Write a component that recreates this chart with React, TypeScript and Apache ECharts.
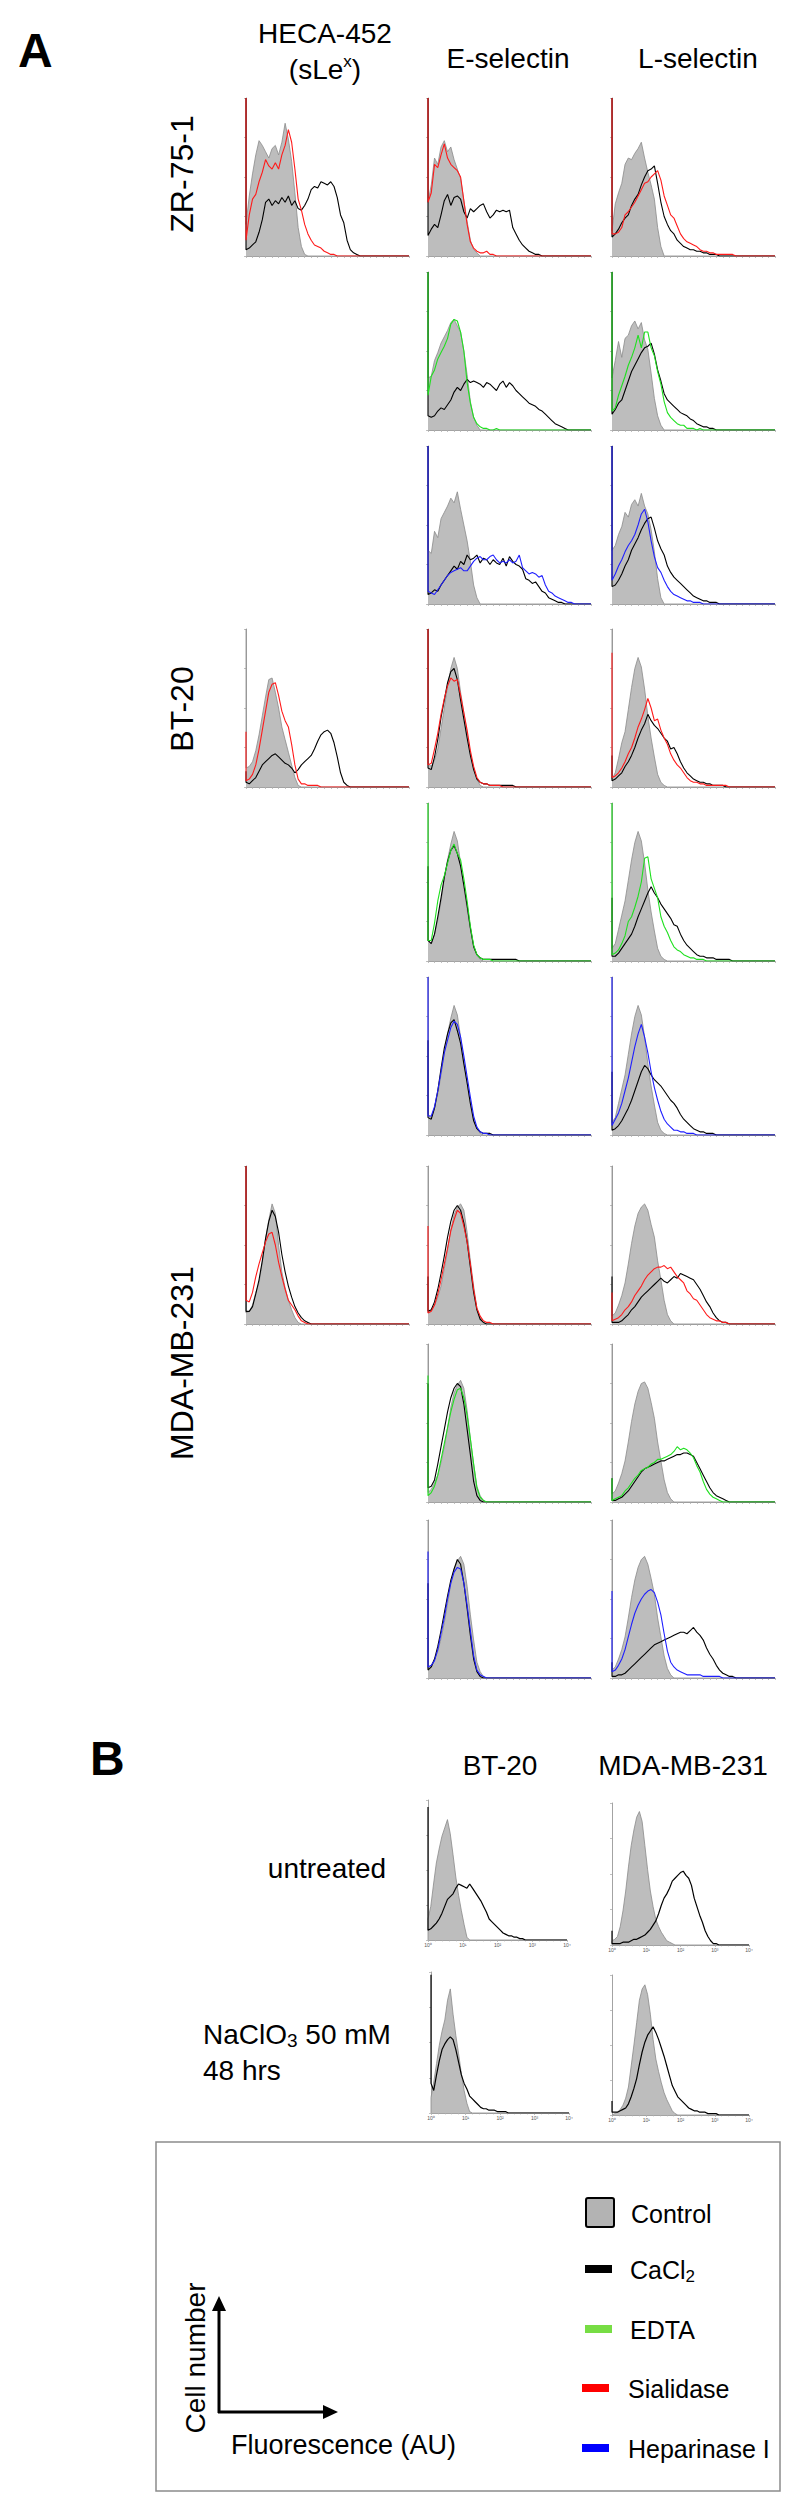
import React, { useEffect, useRef } from "react";
import * as echarts from "echarts";

// ---------------------------------------------------------------------------
// Histogram data: % of panel height per channel bin (bin width = 2% of the
// fluorescence axis). First entry of each array = off-scale first channel.
// ---------------------------------------------------------------------------

// ZR-75-1, sialidase row
const zrHecaCtrl = [100, 20, 38, 52, 64, 73, 70, 66, 62, 68, 70, 64, 72, 84, 74, 60, 40, 18, 6, 1, 0];
const zrHecaCacl2 = [100, 4, 5, 7, 9, 15, 23, 34, 36, 32, 35, 33, 37, 34, 38, 32, 35, 30, 29, 32, 36, 42, 44, 43, 47, 46, 45, 47, 44, 37, 26, 21, 10, 4, 2, 1, 0];
const zrHecaSial = [100, 10, 26, 36, 39, 47, 53, 61, 57, 55, 59, 55, 64, 70, 80, 72, 55, 36, 29, 20, 14, 10, 7, 6, 5, 3, 2, 1, 1, 0];
const zrEselCtrl = [100, 34, 45, 62, 58, 69, 73, 66, 69, 61, 55, 49, 35, 22, 10, 4, 2, 0];
const zrEselCacl2 = [100, 13, 17, 20, 18, 26, 35, 39, 32, 37, 38, 36, 28, 24, 30, 28, 30, 32, 33, 28, 24, 26, 29, 28, 29, 28, 29, 18, 14, 10, 7, 5, 3, 2, 1, 1, 0];
const zrEselSial = [100, 34, 40, 58, 56, 64, 71, 62, 58, 56, 54, 50, 35, 20, 9, 5, 3, 2, 2, 3, 1, 1, 0];
const zrLselCtrl = [100, 16, 33, 40, 46, 58, 62, 61, 65, 68, 72, 62, 53, 45, 36, 18, 6, 0];
const zrLselCacl2 = [100, 12, 14, 17, 21, 24, 26, 32, 36, 39, 45, 50, 54, 55, 57, 46, 34, 25, 20, 16, 14, 10, 8, 6, 5, 4, 4, 3, 3, 2, 2, 1, 1, 1, 0];
const zrLselSial = [100, 14, 14, 15, 18, 26, 28, 31, 34, 38, 42, 46, 47, 50, 52, 54, 48, 38, 32, 26, 24, 19, 14, 11, 9, 8, 7, 6, 4, 3, 3, 2, 2, 1, 1, 1, 1, 1, 1, 0];

// ZR-75-1, EDTA row
const zrEselCtrl2 = [100, 33, 34, 44, 49, 55, 59, 63, 68, 70, 66, 62, 50, 35, 18, 8, 3, 0];
const zrEselCacl2b = [100, 9, 8, 9, 12, 14, 13, 16, 19, 24, 27, 25, 29, 32, 30, 31, 30, 29, 27, 30, 29, 27, 25, 29, 31, 27, 30, 28, 25, 23, 21, 19, 17, 16, 15, 13, 12, 10, 8, 6, 4, 3, 2, 1, 0];
const zrEselEdta = [100, 22, 34, 38, 45, 49, 53, 58, 67, 70, 69, 62, 50, 30, 17, 8, 4, 2, 1, 1, 0, 0, 1, 0];
const zrLselCtrl2 = [100, 33, 44, 56, 46, 58, 60, 66, 69, 64, 68, 57, 51, 36, 20, 9, 3, 0];
const zrLselCacl2b = [100, 10, 13, 17, 19, 25, 31, 37, 41, 45, 49, 52, 53, 55, 48, 38, 31, 23, 19, 17, 15, 13, 11, 10, 9, 7, 6, 4, 3, 2, 2, 1, 1, 0];
const zrLselEdta = [100, 12, 14, 22, 28, 34, 41, 46, 52, 60, 52, 62, 62, 52, 47, 37, 29, 18, 11, 8, 6, 4, 3, 3, 1, 1, 1, 0, 1, 0];

// ZR-75-1, heparinase row
const zrEselCtrl3 = [100, 34, 32, 46, 42, 54, 58, 62, 67, 64, 71, 60, 50, 40, 27, 12, 4, 0];
const zrEselCacl2c = [100, 6, 7, 9, 8, 12, 15, 18, 21, 24, 22, 27, 25, 31, 28, 29, 31, 26, 29, 28, 25, 28, 26, 25, 29, 24, 30, 27, 25, 24, 22, 16, 15, 13, 14, 11, 8, 7, 4, 3, 2, 1, 1, 0];
const zrEselHep = [100, 8, 7, 6, 9, 12, 15, 18, 20, 21, 22, 23, 21, 21, 24, 27, 29, 30, 28, 28, 30, 31, 28, 26, 27, 26, 28, 26, 27, 31, 23, 21, 19, 20, 19, 17, 18, 12, 8, 7, 5, 4, 3, 2, 1, 1, 0];
const zrLselCtrl3 = [100, 34, 37, 44, 49, 58, 55, 63, 66, 62, 70, 62, 57, 47, 33, 16, 4, 0];
const zrLselCacl2c = [100, 11, 12, 15, 19, 24, 28, 34, 38, 42, 47, 51, 54, 55, 48, 40, 35, 31, 24, 20, 17, 15, 13, 11, 9, 7, 5, 4, 3, 2, 2, 1, 1, 1, 0];
const zrLselHep = [100, 15, 19, 24, 28, 33, 37, 40, 44, 50, 57, 60, 52, 40, 30, 23, 20, 15, 11, 8, 6, 5, 4, 3, 2, 2, 1, 1, 1, 0];

// BT-20, sialidase row
const btHecaCtrl = [100, 12, 13, 16, 23, 33, 45, 57, 68, 69, 60, 50, 38, 30, 22, 14, 6, 1, 0];
const btHecaCacl2 = [10, 3, 2, 4, 6, 10, 14, 16, 18, 20, 21, 19, 17, 15, 14, 12, 9, 11, 14, 16, 18, 20, 24, 29, 33, 35, 36, 34, 28, 19, 9, 3, 1, 0];
const btHecaSial = [35, 4, 5, 8, 14, 24, 36, 48, 60, 65, 66, 58, 48, 42, 38, 27, 14, 5, 2, 2, 1, 1, 1, 1, 0];
const btEselCtrl = [100, 15, 13, 17, 24, 37, 50, 64, 75, 82, 75, 60, 47, 34, 21, 12, 5, 1, 0];
const btEselCacl2 = [100, 12, 11, 19, 30, 44, 55, 66, 73, 75, 68, 55, 43, 31, 20, 11, 5, 3, 2, 2, 1, 1, 1, 1, 1, 1, 1, 1, 0];
const btEselSial = [100, 14, 15, 24, 34, 46, 56, 64, 69, 67, 68, 58, 47, 36, 23, 13, 6, 3, 2, 2, 1, 1, 1, 1, 0];
const btLselCtrl = [100, 5, 9, 18, 28, 35, 49, 63, 75, 82, 76, 62, 45, 31, 19, 8, 3, 1, 0];
const btLselCacl2 = [20, 4, 5, 7, 9, 13, 16, 20, 25, 31, 36, 40, 46, 42, 39, 37, 34, 31, 29, 24, 25, 21, 16, 12, 9, 7, 5, 4, 3, 3, 2, 2, 1, 1, 1, 1, 0];
const btLselSial = [85, 6, 7, 9, 12, 16, 21, 25, 31, 38, 43, 49, 56, 50, 42, 43, 36, 31, 27, 21, 17, 14, 12, 9, 6, 4, 3, 3, 2, 2, 1, 1, 1, 1, 1, 1, 1, 0];

// BT-20, EDTA row
const btEselCtrl2 = [100, 13, 11, 17, 26, 38, 52, 64, 74, 82, 76, 62, 47, 33, 20, 10, 4, 1, 0];
const btEselCacl2b = [60, 13, 11, 17, 28, 40, 53, 63, 70, 73, 68, 60, 48, 35, 21, 9, 4, 2, 1, 1, 1, 1, 1, 1, 1, 1, 1, 1, 1, 0];
const btEselEdta = [100, 13, 13, 24, 38, 48, 54, 62, 70, 74, 68, 64, 52, 38, 22, 10, 4, 2, 1, 1, 1, 0];
const btLselCtrl2 = [100, 8, 11, 20, 29, 38, 51, 64, 75, 82, 76, 62, 45, 31, 19, 8, 3, 1, 0];
const btLselCacl2b = [40, 3, 3, 5, 8, 11, 14, 17, 22, 28, 33, 38, 43, 47, 43, 40, 36, 33, 30, 27, 23, 22, 17, 13, 10, 8, 6, 4, 3, 3, 2, 2, 2, 1, 1, 1, 1, 1, 0];
const btLselEdta = [100, 4, 5, 7, 11, 16, 25, 28, 34, 41, 50, 65, 66, 52, 46, 40, 28, 22, 18, 13, 9, 7, 6, 4, 3, 2, 2, 1, 1, 1, 0];

// BT-20, heparinase row
const btEselCtrl3 = [100, 13, 11, 17, 26, 38, 52, 64, 74, 82, 76, 62, 47, 33, 20, 10, 4, 1, 0];
const btEselCacl2c = [60, 11, 10, 17, 28, 42, 55, 64, 71, 73, 66, 58, 45, 33, 20, 9, 4, 2, 1, 1, 1, 0];
const btEselHep = [100, 12, 12, 18, 28, 40, 52, 60, 68, 72, 70, 62, 50, 37, 24, 12, 5, 2, 1, 1, 0];
const btLselCtrl3 = [100, 8, 11, 20, 29, 38, 51, 64, 75, 82, 76, 62, 45, 31, 19, 8, 3, 1, 0];
const btLselCacl2c = [40, 3, 4, 6, 9, 13, 17, 22, 28, 34, 40, 44, 42, 38, 35, 33, 31, 28, 25, 22, 20, 17, 13, 10, 8, 6, 4, 3, 2, 2, 1, 1, 1, 0];
const btLselHep = [100, 6, 10, 14, 20, 28, 36, 46, 56, 64, 70, 62, 52, 40, 30, 22, 15, 10, 7, 5, 3, 3, 2, 2, 1, 1, 1, 0];

// MDA-MB-231, sialidase row
const mdaHecaCtrl = [100, 7, 8, 12, 20, 26, 39, 54, 66, 76, 70, 50, 33, 23, 15, 9, 4, 1, 0];
const mdaHecaCacl2 = [100, 8, 8, 11, 19, 28, 40, 54, 65, 72, 68, 58, 44, 33, 24, 17, 11, 7, 4, 2, 1, 0];
const mdaHecaSial = [100, 15, 14, 20, 30, 38, 45, 52, 57, 58, 50, 39, 30, 22, 15, 12, 9, 5, 2, 1, 0];
const mdaEselCtrl = [100, 7, 9, 12, 17, 24, 35, 47, 60, 69, 74, 76, 72, 58, 40, 24, 10, 4, 1, 0];
const mdaEselCacl2 = [30, 8, 9, 14, 22, 32, 43, 55, 65, 72, 75, 72, 64, 52, 36, 20, 9, 3, 1, 0];
const mdaEselSial = [62, 7, 8, 12, 19, 28, 38, 48, 59, 66, 72, 70, 62, 52, 38, 22, 10, 5, 2, 1, 1, 0];
const mdaLselCtrl = [100, 5, 7, 12, 18, 26, 38, 51, 62, 70, 74, 76, 72, 63, 55, 40, 28, 15, 6, 2, 0];
const mdaLselCacl2 = [30, 1, 1, 1, 2, 4, 6, 9, 11, 14, 17, 19, 21, 23, 25, 27, 29, 27, 26, 28, 30, 29, 32, 31, 30, 29, 28, 25, 22, 18, 14, 11, 7, 4, 2, 1, 1, 0];
const mdaLselSial = [20, 2, 3, 4, 6, 9, 11, 14, 18, 21, 24, 28, 31, 33, 35, 36, 36, 37, 35, 36, 33, 30, 28, 26, 21, 19, 16, 15, 12, 9, 6, 4, 3, 2, 2, 1, 1, 0];

// MDA-MB-231, EDTA row
const mdaEselCtrl2 = [100, 6, 8, 12, 17, 25, 35, 47, 60, 69, 74, 77, 72, 58, 40, 24, 10, 4, 1, 0];
const mdaEselCacl2b = [75, 9, 10, 14, 24, 35, 46, 57, 66, 72, 75, 73, 62, 46, 30, 13, 4, 1, 0];
const mdaEselEdta = [80, 4, 6, 10, 17, 27, 37, 47, 57, 65, 71, 72, 66, 55, 40, 24, 9, 3, 1, 0];
const mdaLselCtrl2 = [100, 5, 7, 12, 18, 26, 38, 51, 62, 70, 75, 76, 72, 63, 53, 38, 26, 14, 6, 2, 0];
const mdaLselCacl2b = [15, 1, 1, 2, 3, 5, 7, 10, 13, 16, 19, 21, 22, 23, 24, 25, 26, 26, 27, 28, 29, 30, 30, 31, 31, 30, 29, 25, 21, 17, 13, 9, 6, 4, 3, 2, 1, 0];
const mdaLselEdta = [15, 1, 2, 3, 4, 7, 9, 12, 15, 17, 20, 21, 22, 24, 25, 27, 27, 28, 29, 30, 32, 35, 33, 34, 33, 31, 28, 23, 19, 13, 8, 5, 3, 2, 1, 0];

// MDA-MB-231, heparinase row
const mdaEselCtrl3 = [100, 6, 8, 12, 17, 25, 35, 47, 60, 69, 74, 77, 72, 58, 40, 24, 10, 4, 1, 0];
const mdaEselCacl2c = [60, 5, 7, 12, 20, 30, 41, 52, 62, 69, 75, 72, 60, 44, 27, 12, 4, 1, 0];
const mdaEselHep = [80, 7, 8, 11, 18, 28, 38, 50, 60, 67, 70, 69, 60, 46, 30, 14, 5, 2, 1, 0];
const mdaLselCtrl3 = [100, 5, 7, 12, 18, 26, 38, 51, 62, 70, 75, 77, 72, 63, 53, 38, 26, 14, 6, 2, 0];
const mdaLselCacl2c = [10, 1, 1, 2, 2, 3, 5, 7, 9, 11, 13, 15, 17, 19, 21, 22, 23, 24, 25, 26, 27, 28, 29, 29, 28, 30, 32, 29, 27, 24, 19, 15, 12, 8, 5, 3, 2, 1, 1, 0];
const mdaLselHep = [55, 4, 5, 8, 12, 18, 26, 34, 41, 46, 50, 53, 55, 56, 54, 48, 40, 28, 17, 10, 7, 5, 4, 3, 2, 2, 2, 2, 2, 1, 1, 1, 1, 1, 1, 0];

// Panel B (untreated vs NaClO3)
const bUntBtCtrl = [0, 15, 24, 40, 55, 65, 74, 80, 86, 76, 61, 45, 32, 21, 11, 2, 0];
const bUntBtCacl2 = [95, 7, 8, 10, 12, 15, 19, 24, 29, 31, 33, 37, 40, 39, 38, 37, 40, 37, 34, 31, 28, 24, 20, 15, 13, 11, 9, 7, 5, 4, 3, 3, 2, 2, 1, 1, 0];
const bUntMdaCtrl = [0, 3, 4, 6, 13, 24, 38, 55, 70, 81, 90, 94, 87, 70, 53, 38, 27, 18, 13, 9, 6, 3, 2, 1, 0];
const bUntMdaCacl2 = [10, 1, 1, 1, 1, 2, 2, 2, 3, 4, 4, 5, 6, 7, 9, 11, 14, 17, 22, 28, 33, 36, 40, 45, 47, 49, 51, 52, 49, 47, 42, 33, 27, 21, 16, 10, 6, 3, 1, 1, 0];
const bNaBtCtrl = [0, 11, 22, 35, 48, 58, 66, 80, 88, 70, 55, 42, 28, 16, 7, 1, 0];
const bNaBtCacl2 = [98, 21, 16, 27, 37, 45, 49, 52, 54, 52, 45, 36, 27, 21, 17, 12, 10, 8, 6, 4, 3, 3, 2, 2, 2, 1, 1, 1, 1, 0];
const bNaMdaCtrl = [0, 0, 1, 2, 4, 7, 12, 20, 35, 50, 66, 82, 90, 93, 86, 72, 54, 40, 31, 23, 16, 11, 7, 3, 1, 0];
const bNaMdaCacl2 = [10, 2, 2, 2, 3, 4, 5, 8, 13, 19, 26, 36, 45, 52, 57, 60, 63, 59, 54, 48, 42, 35, 28, 21, 17, 13, 11, 9, 7, 5, 4, 3, 3, 2, 2, 2, 1, 1, 1, 1, 0];

const B_TICK_LABELS = ["10\u2070", "10\u00B9", "10\u00B2", "10\u00B3", "10\u2074"];
const COLUMN_TITLES = ["HECA-452", "E-selectin", "L-selectin"];
const ROW_TITLES = ["ZR-75-1", "BT-20", "MDA-MB-231"];
const B_COLUMN_TITLES = ["BT-20", "MDA-MB-231"];
const LEGEND_ITEMS = ["Control", "CaCl2", "EDTA", "Sialidase", "Heparinase I"];

// ---------------------------------------------------------------------------
const FONT = "'Liberation Sans', Arial, Helvetica, sans-serif";
const COLORS: Record<string, string> = {
  cacl2: "#000000",
  edta: "#1fe01f",
  sial: "#ff1a1a",
  hep: "#1f1fff",
};
const BIN = 2;

// layout
const COL_X = [246, 428, 612];
const ROW_BOTTOM = [256, 430, 604, 787, 961, 1135, 1324, 1502, 1678];
const PW = 163;
const PH = 158;

type PanelA = { r: number; c: number; ctrl: number[]; cacl2: number[]; t: string; tr: number[] };
const panelsA: PanelA[] = [
  { r: 0, c: 0, ctrl: zrHecaCtrl, cacl2: zrHecaCacl2, t: "sial", tr: zrHecaSial },
  { r: 0, c: 1, ctrl: zrEselCtrl, cacl2: zrEselCacl2, t: "sial", tr: zrEselSial },
  { r: 0, c: 2, ctrl: zrLselCtrl, cacl2: zrLselCacl2, t: "sial", tr: zrLselSial },
  { r: 1, c: 1, ctrl: zrEselCtrl2, cacl2: zrEselCacl2b, t: "edta", tr: zrEselEdta },
  { r: 1, c: 2, ctrl: zrLselCtrl2, cacl2: zrLselCacl2b, t: "edta", tr: zrLselEdta },
  { r: 2, c: 1, ctrl: zrEselCtrl3, cacl2: zrEselCacl2c, t: "hep", tr: zrEselHep },
  { r: 2, c: 2, ctrl: zrLselCtrl3, cacl2: zrLselCacl2c, t: "hep", tr: zrLselHep },
  { r: 3, c: 0, ctrl: btHecaCtrl, cacl2: btHecaCacl2, t: "sial", tr: btHecaSial },
  { r: 3, c: 1, ctrl: btEselCtrl, cacl2: btEselCacl2, t: "sial", tr: btEselSial },
  { r: 3, c: 2, ctrl: btLselCtrl, cacl2: btLselCacl2, t: "sial", tr: btLselSial },
  { r: 4, c: 1, ctrl: btEselCtrl2, cacl2: btEselCacl2b, t: "edta", tr: btEselEdta },
  { r: 4, c: 2, ctrl: btLselCtrl2, cacl2: btLselCacl2b, t: "edta", tr: btLselEdta },
  { r: 5, c: 1, ctrl: btEselCtrl3, cacl2: btEselCacl2c, t: "hep", tr: btEselHep },
  { r: 5, c: 2, ctrl: btLselCtrl3, cacl2: btLselCacl2c, t: "hep", tr: btLselHep },
  { r: 6, c: 0, ctrl: mdaHecaCtrl, cacl2: mdaHecaCacl2, t: "sial", tr: mdaHecaSial },
  { r: 6, c: 1, ctrl: mdaEselCtrl, cacl2: mdaEselCacl2, t: "sial", tr: mdaEselSial },
  { r: 6, c: 2, ctrl: mdaLselCtrl, cacl2: mdaLselCacl2, t: "sial", tr: mdaLselSial },
  { r: 7, c: 1, ctrl: mdaEselCtrl2, cacl2: mdaEselCacl2b, t: "edta", tr: mdaEselEdta },
  { r: 7, c: 2, ctrl: mdaLselCtrl2, cacl2: mdaLselCacl2b, t: "edta", tr: mdaLselEdta },
  { r: 8, c: 1, ctrl: mdaEselCtrl3, cacl2: mdaEselCacl2c, t: "hep", tr: mdaEselHep },
  { r: 8, c: 2, ctrl: mdaLselCtrl3, cacl2: mdaLselCacl2c, t: "hep", tr: mdaLselHep },
];

const panelsB = [
  { x: 428, y: 1800, w: 139, h: 140, ctrl: bUntBtCtrl, cacl2: bUntBtCacl2 },
  { x: 612, y: 1803, w: 137, h: 142, ctrl: bUntMdaCtrl, cacl2: bUntMdaCacl2 },
  { x: 431, y: 1972, w: 138, h: 141, ctrl: bNaBtCtrl, cacl2: bNaBtCacl2 },
  { x: 612, y: 1975, w: 137, h: 140, ctrl: bNaMdaCtrl, cacl2: bNaMdaCacl2 },
];

function toPoints(arr: number[]) {
  const pts: number[][] = [[0, arr[0]]];
  for (let i = 1; i < arr.length; i++) pts.push([(i - 1) * BIN, arr[i]]);
  pts.push([100, 0]);
  return pts;
}

function buildOption() {
  const grid: any[] = [];
  const xAxis: any[] = [];
  const yAxis: any[] = [];
  const series: any[] = [];

  const addPanel = (
    left: number, top: number, w: number, h: number,
    curves: { data: number[]; kind: string }[], isB: boolean
  ) => {
    const i = grid.length;
    grid.push({ left, top, width: w, height: h, containLabel: false });
    xAxis.push({
      gridIndex: i, type: "value", min: 0, max: 100, interval: isB ? 25 : 4,
      axisLine: { show: true, lineStyle: { color: "#a3a3a3", width: 1 } },
      axisTick: { show: true, length: 2, lineStyle: { color: "#b0b0b0", width: 0.8 } },
      minorTick: { show: isB, splitNumber: 5, length: 1.5, lineStyle: { color: "#b0b0b0", width: 0.6 } },
      axisLabel: isB
        ? {
            show: true, fontSize: 5, color: "#555", margin: 2, fontFamily: FONT,
            showMinLabel: true, showMaxLabel: true, hideOverlap: false,
            formatter: (v: number) => B_TICK_LABELS[Math.round(v / 25)] || "",
          }
        : { show: false },
      splitLine: { show: false },
    });
    yAxis.push({
      gridIndex: i, type: "value", min: 0, max: 100, interval: 25,
      axisLine: { show: true, lineStyle: { color: "#a3a3a3", width: 1 } },
      axisTick: { show: true, length: 2, lineStyle: { color: "#b0b0b0", width: 0.8 } },
      axisLabel: { show: false },
      splitLine: { show: false },
    });
    curves.forEach((cv) => {
      const isCtrl = cv.kind === "ctrl";
      series.push({
        type: "line", xAxisIndex: i, yAxisIndex: i, data: toPoints(cv.data),
        symbol: "none", silent: true,
        lineStyle: isCtrl
          ? { color: "#8a8a8a", width: 0.8 }
          : { color: COLORS[cv.kind], width: isB ? 1.2 : 1.1 },
        areaStyle: isCtrl ? { color: "#bdbdbd", opacity: 1 } : undefined,
        z: isCtrl ? 2 : 3,
      });
    });
  };

  panelsA.forEach((p) => {
    addPanel(COL_X[p.c], ROW_BOTTOM[p.r] - PH, PW, PH, [
      { data: p.ctrl, kind: "ctrl" },
      { data: p.cacl2, kind: "cacl2" },
      { data: p.tr, kind: p.t },
    ], false);
  });
  panelsB.forEach((p) => {
    addPanel(p.x, p.y, p.w, p.h, [
      { data: p.ctrl, kind: "ctrl" },
      { data: p.cacl2, kind: "cacl2" },
    ], true);
  });

  const txt = (text: string, x: number, y: number, size: number, o: any = {}) => ({
    type: "text", x, y, rotation: o.rot || 0, silent: true,
    style: {
      text, fontSize: size, fontFamily: FONT, fontWeight: o.bold ? "bold" : "normal",
      fill: "#000", align: o.align || "left", verticalAlign: "middle", rich: o.rich,
    },
  });
  const richBase = (size: number) => ({ fontSize: size, fontFamily: FONT, fill: "#000", lineHeight: Math.round(size * 1.15) });
  const subStyle = (size: number) => ({ fontSize: size, fontFamily: FONT, fill: "#000", lineHeight: 6, verticalAlign: "bottom" });
  const supStyle = (size: number) => ({ fontSize: size, fontFamily: FONT, fill: "#000", lineHeight: 8, verticalAlign: "top" });

  const elements: any[] = [
    txt("A", 18, 50, 48, { bold: true }),
    txt("B", 90, 1758, 48, { bold: true }),
    txt(COLUMN_TITLES[0], 325, 33, 28, { align: "center" }),
    txt("{a|(sLe}{s|x}{a|)}", 325, 69, 28, {
      align: "center",
      rich: { a: richBase(28), s: supStyle(17) },
    }),
    txt(COLUMN_TITLES[1], 508, 58, 28, { align: "center" }),
    txt(COLUMN_TITLES[2], 698, 58, 28, { align: "center" }),
    txt(ROW_TITLES[0], 182, 174, 32, { align: "center", rot: Math.PI / 2 }),
    txt(ROW_TITLES[1], 182, 709, 32, { align: "center", rot: Math.PI / 2 }),
    txt(ROW_TITLES[2], 182, 1363, 32, { align: "center", rot: Math.PI / 2 }),
    txt(B_COLUMN_TITLES[0], 500, 1765, 28, { align: "center" }),
    txt(B_COLUMN_TITLES[1], 683, 1765, 28, { align: "center" }),
    txt("untreated", 327, 1868, 28, { align: "center" }),
    txt("{a|NaClO}{s|3}{a| 50 mM}", 203, 2034, 28, {
      rich: { a: richBase(28), s: subStyle(19) },
    }),
    txt("48 hrs", 203, 2070, 28),
    // legend box
    {
      type: "rect", silent: true,
      shape: { x: 156, y: 2142, width: 624, height: 349 },
      style: { fill: "none", stroke: "#8c8c8c", lineWidth: 1.5 },
    },
    // axes arrows
    { type: "line", silent: true, shape: { x1: 219, y1: 2413, x2: 219, y2: 2308 }, style: { stroke: "#000", lineWidth: 3 } },
    { type: "line", silent: true, shape: { x1: 218, y1: 2412, x2: 326, y2: 2412 }, style: { stroke: "#000", lineWidth: 3 } },
    { type: "polygon", silent: true, shape: { points: [[219, 2296], [212, 2311], [226, 2311]] }, style: { fill: "#000" } },
    { type: "polygon", silent: true, shape: { points: [[338, 2412], [323, 2405], [323, 2419]] }, style: { fill: "#000" } },
    txt("Cell number", 195, 2358, 28, { align: "center", rot: Math.PI / 2 }),
    txt("Fluorescence (AU)", 231, 2445, 27),
    // legend swatches
    {
      type: "rect", silent: true, shape: { x: 586, y: 2198, width: 28, height: 29, r: 2 },
      style: { fill: "#b3b3b3", stroke: "#000", lineWidth: 2 },
    },
    { type: "rect", silent: true, shape: { x: 585, y: 2265, width: 27, height: 8 }, style: { fill: "#000000" } },
    { type: "rect", silent: true, shape: { x: 585, y: 2325, width: 27, height: 8 }, style: { fill: "#77dd44" } },
    { type: "rect", silent: true, shape: { x: 582, y: 2384, width: 27, height: 8 }, style: { fill: "#ff0000" } },
    { type: "rect", silent: true, shape: { x: 582, y: 2444, width: 27, height: 8 }, style: { fill: "#0000ff" } },
    txt(LEGEND_ITEMS[0], 631, 2214, 25),
    txt("{a|CaCl}{s|2}", 630, 2270, 25, {
      rich: { a: richBase(25), s: subStyle(17) },
    }),
    txt(LEGEND_ITEMS[2], 630, 2330, 25),
    txt(LEGEND_ITEMS[3], 628, 2389, 25),
    txt(LEGEND_ITEMS[4], 628, 2449, 25),
  ];

  return {
    animation: false,
    backgroundColor: "#ffffff",
    grid, xAxis, yAxis, series,
    graphic: { elements },
  };
}

export default function App() {
  const ref = useRef<HTMLDivElement>(null);
  useEffect(() => {
    if (!ref.current) return;
    const chart = echarts.init(ref.current, undefined, { renderer: "svg" });
    chart.setOption(buildOption() as any);
    return () => chart.dispose();
  }, []);
  return (
    <div
      ref={ref}
      style={{ position: "absolute", left: 0, top: 0, width: 800, height: 2498, background: "#fff" }}
    />
  );
}
